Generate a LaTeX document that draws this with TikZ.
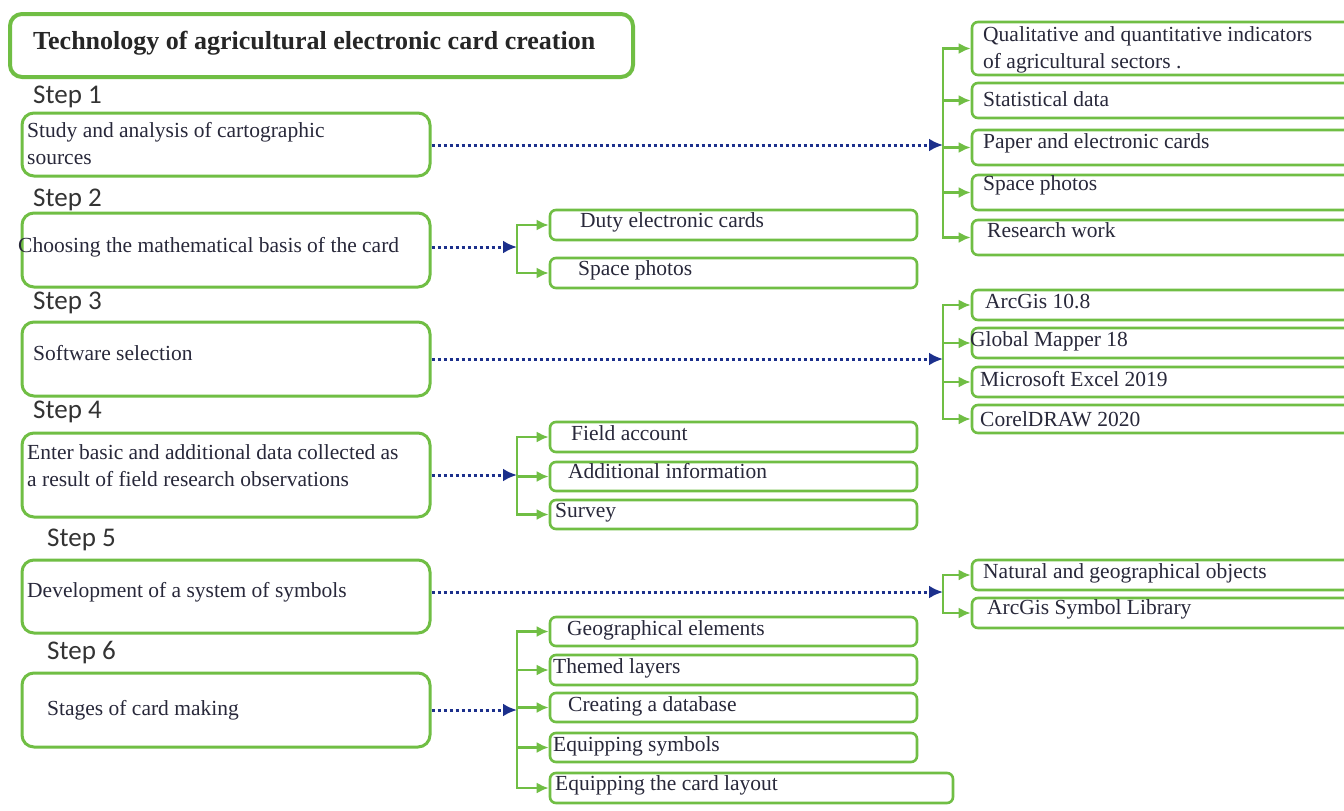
\documentclass[tikz,border=0pt]{standalone}
\usepackage{fontspec}
\setmainfont{Liberation Serif}
\newfontfamily\stepfont{Carlito}
\usetikzlibrary{arrows.meta}
\definecolor{gline}{RGB}{112,190,68}
\definecolor{bline}{RGB}{28,48,140}
\definecolor{txtc}{RGB}{40,40,58}
\begin{document}
\begin{tikzpicture}[x=1pt,y=-1pt,
  titlebox/.style={draw=gline, line width=4pt, rounded corners=12pt, inner sep=0pt},
  stepbox/.style={draw=gline, line width=3pt, rounded corners=12pt, inner sep=0pt, minimum width=408pt},
  subbox/.style={draw=gline, line width=2.6pt, rounded corners=6pt, inner sep=0pt},
  txt/.style={anchor=west, inner sep=0pt, text=txtc, font=\fontsize{21.5}{27}\selectfont, align=left},
  steplbl/.style={anchor=west, inner sep=0pt, text=black!80, font=\stepfont\fontsize{27}{30}\selectfont},
  garrow/.style={draw=gline, line width=2.4pt, -{Latex[length=12pt,width=11pt]}},
  barrow/.style={draw=bline, line width=3pt, dash pattern=on 3pt off 3pt, -{Latex[length=14pt,width=13pt]}}
]
\useasboundingbox (0,0) rectangle (1344,811);
\clip (0,0) rectangle (1344,811);
\fill[white] (0,0) rectangle (1344,811);

% title
\node[titlebox, minimum width=623pt, minimum height=63pt] (title) at (321.5,45.5) {};
\node[txt, font=\bfseries\fontsize{26}{30}\selectfont, text=black!85] (titletxt) at (33,43) {Technology of agricultural electronic card creation};

% step labels
\node[steplbl] (s1) at (33,97) {Step 1};
\node[steplbl] (s2) at (33,200) {Step 2};
\node[steplbl] (s3) at (33,303) {Step 3};
\node[steplbl] (s4) at (33,412) {Step 4};
\node[steplbl] (s5) at (47,540) {Step 5};
\node[steplbl] (s6) at (47,653) {Step 6};

% step boxes
\node[stepbox, minimum height=63pt] (b1) at (226,144.5) {};
\node[stepbox, minimum height=74pt] (b2) at (226,250) {};
\node[stepbox, minimum height=74pt] (b3) at (226,359) {};
\node[stepbox, minimum height=84pt] (b4) at (226,475) {};
\node[stepbox, minimum height=73pt] (b5) at (226,596.5) {};
\node[stepbox, minimum height=74pt] (b6) at (226,710) {};

\node[txt] (tb1) at (27,143.5) {Study and analysis of cartographic\\sources};
\node[txt] (tb2) at (18,247) {Choosing the mathematical basis of the card};
\node[txt] (tb3) at (33,353) {Software selection};
\node[txt] (tb4) at (27,465.5) {Enter basic and additional data collected as\\a result of field research observations};
\node[txt] (tb5) at (27,592) {Development of a system of symbols};
\node[txt] (tb6) at (47,710) {Stages of card making};

% junctions
\coordinate (j1) at (943,145);
\coordinate (j2) at (517,247);
\coordinate (j3) at (943,359);
\coordinate (j4) at (517,475);
\coordinate (j5) at (943,592);
\coordinate (j6) at (517,710);

% group 1 boxes
\node[subbox, minimum width=388pt, minimum height=53pt] (r1a) at (1166,48.5) {};
\node[subbox, minimum width=388pt, minimum height=35pt] (r1b) at (1166,100.5) {};
\node[subbox, minimum width=388pt, minimum height=35pt] (r1c) at (1166,147.5) {};
\node[subbox, minimum width=388pt, minimum height=35pt] (r1d) at (1166,192.5) {};
\node[subbox, minimum width=388pt, minimum height=35pt] (r1e) at (1166,237.5) {};
\node[txt] (t1a) at (983,49.5) {Qualitative and quantitative indicators\\of agricultural sectors .};
\node[txt] (t1b) at (983,99) {Statistical data};
\node[txt] (t1c) at (983,143) {Paper and electronic cards};
\node[txt] (t1d) at (983,185) {Space photos};
\node[txt] (t1e) at (987,230) {Research work};

% group 2 boxes
\node[subbox, minimum width=367pt, minimum height=30pt] (r2a) at (733.5,225) {};
\node[subbox, minimum width=367pt, minimum height=30pt] (r2b) at (733.5,273) {};
\node[txt] (t2a) at (580,222) {Duty electronic cards};
\node[txt] (t2b) at (578,270) {Space photos};

% group 3 boxes
\node[subbox, minimum width=388pt, minimum height=30pt] (r3a) at (1166,305) {};
\node[subbox, minimum width=388pt, minimum height=30pt] (r3b) at (1166,343) {};
\node[subbox, minimum width=388pt, minimum height=30pt] (r3c) at (1166,382) {};
\node[subbox, minimum width=388pt, minimum height=28pt] (r3d) at (1166,419) {};
\node[txt] (t3a) at (985,301) {ArcGis 10.8};
\node[txt] (t3b) at (970,341) {Global Mapper 18};
\node[txt] (t3c) at (980,379) {Microsoft Excel 2019};
\node[txt] (t3d) at (980,419) {CorelDRAW 2020};

% group 4 boxes
\node[subbox, minimum width=367pt, minimum height=30pt] (r4a) at (733.5,437) {};
\node[subbox, minimum width=367pt, minimum height=29pt] (r4b) at (733.5,476.5) {};
\node[subbox, minimum width=367pt, minimum height=29pt] (r4c) at (733.5,514.5) {};
\node[txt] (t4a) at (571,433) {Field account};
\node[txt] (t4b) at (568,471) {Additional information};
\node[txt] (t4c) at (555,513) {Survey};

% group 5 boxes
\node[subbox, minimum width=388pt, minimum height=30pt] (r5a) at (1166,575) {};
\node[subbox, minimum width=388pt, minimum height=30pt] (r5b) at (1166,613) {};
\node[txt] (t5a) at (983,573) {Natural and geographical objects};
\node[txt] (t5b) at (987,609) {ArcGis Symbol Library};

% group 6 boxes
\node[subbox, minimum width=367pt, minimum height=29pt] (r6a) at (733.5,631.5) {};
\node[subbox, minimum width=367pt, minimum height=30pt] (r6b) at (733.5,670) {};
\node[subbox, minimum width=367pt, minimum height=29pt] (r6c) at (733.5,707.5) {};
\node[subbox, minimum width=367pt, minimum height=29pt] (r6d) at (733.5,747.5) {};
\node[subbox, minimum width=403pt, minimum height=30pt] (r6e) at (751.5,788) {};
\node[txt] (t6a) at (567,630) {Geographical elements};
\node[txt] (t6b) at (553,668) {Themed layers};
\node[txt] (t6c) at (568,706) {Creating a database};
\node[txt] (t6d) at (553,746) {Equipping symbols};
\node[txt] (t6e) at (555,785) {Equipping the card layout};

% green brackets
\foreach \r in {r1a,r1b,r1c,r1d,r1e} \draw[garrow] (j1) |- (\r.west);
\foreach \r in {r2a,r2b} \draw[garrow] (j2) |- (\r.west);
\foreach \r in {r3a,r3b,r3c,r3d} \draw[garrow] (j3) |- (\r.west);
\foreach \r in {r4a,r4b,r4c} \draw[garrow] (j4) |- (\r.west);
\foreach \r in {r5a,r5b} \draw[garrow] (j5) |- (\r.west);
\foreach \r in {r6a,r6b,r6c,r6d,r6e} \draw[garrow] (j6) |- (\r.west);

% blue dotted arrows
\draw[barrow] (j1 -| b1.east) -- (j1);
\draw[barrow] (j2 -| b2.east) -- (j2);
\draw[barrow] (j3 -| b3.east) -- (j3);
\draw[barrow] (j4 -| b4.east) -- (j4);
\draw[barrow] (j5 -| b5.east) -- (j5);
\draw[barrow] (j6 -| b6.east) -- (j6);
\end{tikzpicture}
\end{document}
